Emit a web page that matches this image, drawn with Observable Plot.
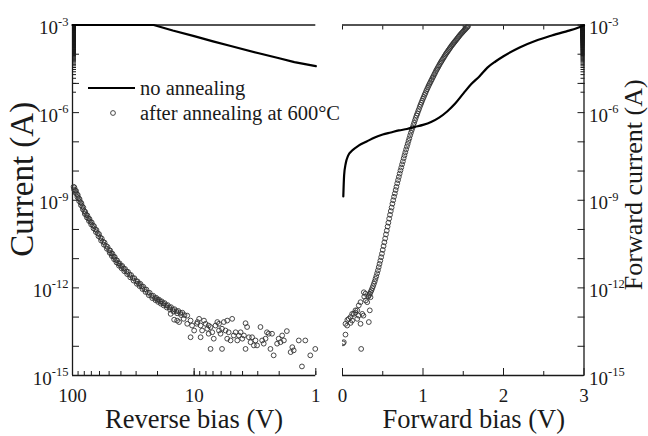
<!DOCTYPE html>
<html><head><meta charset="utf-8">
<script src="https://cdn.jsdelivr.net/npm/d3@7"></script>
<script src="https://cdn.jsdelivr.net/npm/@observablehq/plot@0.6"></script>
<style>
html,body{margin:0;padding:0;background:#fff;}
#wrap{position:relative;width:648px;height:436px;overflow:hidden;background:#fff;}
#wrap svg{position:absolute;top:0;}
</style></head><body><div id="wrap"></div>
<script>
// ---------------- data ----------------
// current values are stored as log10(current / A)
const yTickValues = [1e-3, 1e-6, 1e-9, 1e-12, 1e-15];
const yTickLabels = ["10^-3", "10^-6", "10^-9", "10^-12", "10^-15"];
const yDecades = [1e-3,1e-4,1e-5,1e-6,1e-7,1e-8,1e-9,1e-10,1e-11,1e-12,1e-13,1e-14,1e-15];
const revTickValues = [100, 10, 1];
const revTickLabels = ["100", "10", "1"];
const fwdTickValues = [0, 1, 2, 3];
const fwdTickLabels = ["0", "1", "2", "3"];
const fwdMinorTicks = [0.5, 1.5, 2.5];
const fwdTopTicks = [0, 0.5, 1, 1.5, 2, 2.5, 3];

// Reverse bias, no annealing (line)
const revNoAnnV    = [100, 60, 30, 21.5, 15, 10, 7, 5, 3, 2, 1.5, 1];
const revNoAnnLogI = [-3, -3, -3, -3, -3.19, -3.38, -3.56, -3.72, -3.96, -4.14, -4.27, -4.41];

// Reverse bias, after annealing at 600°C (circles): dense band, then scattered points
const revAnnV = [98,95,92,89,86,83,80,77,74,71,68,65,62,59,56,53,50,48,46,44,42,40,38,36,34,32,30,28.5,27,25.5,24,22.5,21,20,19,18,17,16,15,14,13,12,
  96.5,93.5,90.5,87.5,84.5,81.5,78.5,75.5,72.5,69.5,66.5,63.5,60.5,57.5,54.5,51.5,49,47,45,43,41,39,37,35,33,31,29.2,27.7,26.2,24.7,23.2,21.7,20.5,19.5,18.5,17.5,16.5,15.5,14.5,13.5,12.5,
  97.2,94.2,91.2,88.2,85.2,82.2,79.2,76.2,73.2,70.2,67.2,64.2,61.2,58.2,55.2,52.2,49.5,47.5,45.5,43.5,41.5,39.5,37.5,35.5,33.5,31.5,29.6,28.1,26.6,25.1,23.6,22.1,20.8,19.8,18.8,17.8,16.8,15.8,14.8,13.8,12.8,
  14.6,13.3,12.2,11.4,10.7,10.4,10.0,9.4,9.1,8.85,8.6,8.3,8.05,7.8,7.6,7.33,7.1,6.9,6.67,6.45,6.25,6.07,5.9,5.7,5.52,5.35,5.2,5.02,4.87,4.72,4.56,4.42,4.29,4.15,4.02,3.90,3.78,3.67,3.55,3.44,3.34,3.23,3.13,3.04,2.85,2.76,2.68,2.59,2.52,2.44,2.36,2.29,2.22,2.08,2.02,1.95,1.89,1.83,1.73,1.61,1.56,1.52,1.38,1.30,1.22,1.11,1.01,7.33,5.9,3.78,
  15.6,13.8,11.4,9.5,8.85,7.6,6.25,5.35,10.7];
const revAnnLogI = [-8.54,-8.66,-8.79,-8.93,-9.07,-9.21,-9.37,-9.50,-9.62,-9.74,-9.86,-10.00,-10.13,-10.28,-10.42,-10.56,-10.71,-10.82,-10.93,-11.04,-11.16,-11.25,-11.34,-11.44,-11.55,-11.66,-11.77,-11.86,-11.95,-12.05,-12.16,-12.27,-12.35,-12.41,-12.47,-12.53,-12.60,-12.67,-12.74,-12.80,-12.86,-12.93,
  -8.56,-8.68,-8.82,-8.96,-9.10,-9.25,-9.40,-9.52,-9.64,-9.76,-9.89,-10.02,-10.16,-10.31,-10.45,-10.60,-10.72,-10.83,-10.94,-11.06,-11.16,-11.25,-11.35,-11.45,-11.56,-11.67,-11.78,-11.86,-11.96,-12.06,-12.17,-12.27,-12.34,-12.40,-12.46,-12.52,-12.59,-12.66,-12.73,-12.79,-12.85,
  -8.63,-8.75,-8.89,-9.03,-9.17,-9.31,-9.47,-9.59,-9.71,-9.83,-9.96,-10.09,-10.23,-10.38,-10.52,-10.66,-10.80,-10.91,-11.02,-11.13,-11.24,-11.33,-11.43,-11.53,-11.64,-11.75,-11.86,-11.94,-12.04,-12.14,-12.25,-12.35,-12.42,-12.48,-12.54,-12.60,-12.67,-12.74,-12.81,-12.87,-12.93,
  -13.09,-13.17,-13.06,-12.95,-13.12,-13.29,-13.46,-13.17,-13.06,-13.29,-13.46,-13.12,-13.23,-13.40,-13.57,-13.34,-13.52,-13.74,-13.29,-13.17,-13.46,-13.57,-13.40,-13.17,-13.46,-13.74,-13.52,-13.80,-13.06,-13.63,-13.52,-13.80,-13.63,-13.52,-13.74,-13.63,-13.21,-13.34,-13.69,-13.86,-13.69,-13.97,-13.80,-13.97,-13.34,-13.80,-13.91,-13.74,-13.52,-13.57,-14.09,-13.57,-14.31,-13.91,-13.74,-13.86,-13.63,-13.80,-13.48,-14.20,-14.03,-14.14,-13.80,-14.69,-13.80,-14.31,-14.09,-14.09,-14.09,-14.09,
  -12.89,-13.12,-13.23,-13.23,-13.69,-13.29,-13.23,-13.12,-13.69];

// Forward bias, no annealing (line)
const fwdNoAnnV    = [0.01,0.02,0.04,0.07,0.12,0.2,0.3,0.4,0.5,0.6,0.7,0.8,0.9,1.0,1.1,1.2,1.3,1.4,1.5,1.6,1.7,1.8,1.9,2.0,2.2,2.4,2.6,2.8,2.9,3.0];
const fwdNoAnnLogI = [-8.87,-8.15,-7.74,-7.47,-7.30,-7.13,-6.99,-6.85,-6.75,-6.68,-6.61,-6.56,-6.49,-6.42,-6.32,-6.17,-5.96,-5.69,-5.35,-5.02,-4.76,-4.46,-4.25,-4.07,-3.77,-3.54,-3.36,-3.20,-3.12,-3.01];

// Forward bias, after annealing at 600°C (circles): rising band, then low-bias scatter
const fwdAnnV = [0.32,0.34,0.36,0.38,0.40,0.42,0.44,0.46,0.48,0.50,0.52,0.54,0.56,0.58,0.60,0.62,0.64,0.66,0.68,0.70,0.72,0.74,0.76,0.78,0.80,0.82,0.84,0.86,0.88,0.90,0.92,0.94,0.96,0.98,1.00,1.02,1.04,1.06,1.08,1.10,1.12,1.14,1.16,1.18,1.20,1.22,1.24,1.26,1.28,1.30,1.32,1.34,1.36,1.38,1.40,1.42,1.44,1.46,1.48,1.50,1.52,1.54,1.56,
  0.33,0.35,0.37,0.39,0.41,0.43,0.45,0.47,0.49,0.51,0.53,0.55,0.57,0.59,0.61,0.63,0.65,0.67,0.69,0.71,0.73,0.75,0.77,0.79,0.81,0.83,0.85,0.87,0.89,0.91,0.93,0.95,0.97,0.99,1.01,1.03,1.05,1.07,1.09,1.11,1.13,1.15,1.17,1.19,1.21,1.23,1.25,1.27,1.29,1.31,1.33,1.35,1.37,1.39,1.41,1.43,1.45,1.47,1.49,1.51,1.53,1.55,
  0.006,0.016,0.037,0.037,0.058,0.078,0.099,0.12,0.12,0.14,0.161,0.183,0.202,0.224,0.224,0.232,0.245,0.265,0.286,0.307,0.327,0.339,0.348,0.183,0.20,0.26,0.29,0.10,0.06,0.16,0.27];
const fwdAnnLogI = [-12.30,-12.20,-12.08,-11.94,-11.78,-11.60,-11.40,-11.18,-10.95,-10.70,-10.44,-10.17,-9.90,-9.63,-9.37,-9.12,-8.88,-8.65,-8.42,-8.20,-7.98,-7.77,-7.56,-7.36,-7.16,-6.97,-6.78,-6.60,-6.43,-6.26,-6.10,-5.95,-5.80,-5.66,-5.52,-5.39,-5.26,-5.14,-5.02,-4.91,-4.80,-4.69,-4.58,-4.48,-4.38,-4.28,-4.19,-4.10,-4.01,-3.93,-3.85,-3.77,-3.69,-3.62,-3.55,-3.48,-3.41,-3.34,-3.28,-3.22,-3.16,-3.10,-3.04,
  -12.25,-12.14,-12.01,-11.86,-11.69,-11.50,-11.29,-11.07,-10.83,-10.57,-10.31,-10.04,-9.77,-9.50,-9.25,-9.00,-8.77,-8.54,-8.31,-8.09,-7.88,-7.67,-7.46,-7.26,-7.07,-6.88,-6.69,-6.52,-6.35,-6.18,-6.03,-5.88,-5.73,-5.59,-5.46,-5.33,-5.20,-5.08,-4.97,-4.86,-4.75,-4.64,-4.53,-4.43,-4.33,-4.24,-4.15,-4.06,-3.97,-3.89,-3.81,-3.73,-3.66,-3.59,-3.52,-3.45,-3.38,-3.31,-3.25,-3.19,-3.13,-3.07,
  -13.90,-13.86,-13.60,-13.23,-13.29,-13.06,-13.00,-12.89,-13.12,-12.89,-12.77,-13.06,-12.60,-12.49,-13.23,-14.09,-12.89,-12.15,-12.20,-12.49,-13.17,-12.77,-12.32,-12.77,-12.95,-12.95,-12.43,-13.20,-13.10,-12.85,-12.30];

// ---------------- tables ----------------
const toRows = (V, L) => V.map((v, i) => ({V: v, I: 10 ** L[i]}));
const revNoAnn = toRows(revNoAnnV, revNoAnnLogI);
const revAnn = toRows(revAnnV, revAnnLogI);
const fwdNoAnn = toRows(fwdNoAnnV, fwdNoAnnLogI);
const fwdAnn = toRows(fwdAnnV, fwdAnnLogI);

// ---------------- styling ----------------
const ink = "#1a1a1a";
const FONT = "'Liberation Serif', 'Times New Roman', serif";
const H = 436;
const blank = () => "";
const yLab = d => yTickLabels[yTickValues.indexOf(d)];
const common = {
  height: H, marginTop: 24.5, marginBottom: 61,
  y: {type: "log", domain: [1e-15, 1e-3], label: null},
  style: {fontFamily: FONT, fontSize: "19px", color: ink, background: "transparent", overflow: "visible"}
};
const dotOpts = {x: "V", y: "I", r: 2.4, stroke: "#333", strokeWidth: 0.9, fill: "none"};

const left = Plot.plot({
  ...common, width: 330, marginLeft: 72, marginRight: 14.7,
  x: {type: "log", domain: [100, 1], label: null},
  marks: [
    Plot.ruleX([100], {stroke: ink, strokeWidth: 1.3}),
    Plot.ruleY([1e-3, 1e-15], {stroke: ink, strokeWidth: 1.3}),
    Plot.axisY({anchor: "left", ticks: yDecades, tickSize: 7, dx: 7, tickFormat: blank, stroke: ink}),
    Plot.axisY({anchor: "left", ticks: 300, tickSize: 4, dx: 4, tickFormat: blank, stroke: ink}),
    Plot.axisY({anchor: "left", ticks: yTickValues, tickSize: 0, tickPadding: 4, dy: 3, tickFormat: yLab, fill: ink}),
    Plot.axisX({anchor: "bottom", ticks: revTickValues, tickSize: 7, dy: -7, tickFormat: blank, stroke: ink}),
    Plot.axisX({anchor: "bottom", ticks: 30, tickSize: 4, dy: -4, tickFormat: blank, stroke: ink}),
    Plot.axisX({anchor: "bottom", ticks: revTickValues, tickSize: 0, tickPadding: 13, fill: ink,
      tickFormat: d => revTickLabels[revTickValues.indexOf(d)]}),
    Plot.dot(revAnn, dotOpts),
    Plot.line(revNoAnn, {x: "V", y: "I", stroke: "#000", strokeWidth: 2.2}),
    Plot.text(["Reverse bias (V)"], {text: d => d, frameAnchor: "bottom", lineAnchor: "middle", textAnchor: "middle", dy: 44.5, fontSize: 26.5, fill: ink}),
    Plot.text(["Current (A)"], {text: d => d, frameAnchor: "left", lineAnchor: "middle", textAnchor: "middle", rotate: -90, dx: -49.6, dy: -21, fontSize: 33, fill: ink})
  ]
});

const right = Plot.plot({
  ...common, width: 318, marginLeft: 12, marginRight: 64.5,
  x: {type: "linear", domain: [0, 3], label: null},
  marks: [
    Plot.ruleX([3], {stroke: ink, strokeWidth: 1.3}),
    Plot.ruleY([1e-3, 1e-15], {stroke: ink, strokeWidth: 1.3}),
    Plot.axisY({anchor: "right", ticks: yDecades, tickSize: 7, dx: -7, tickFormat: blank, stroke: ink}),
    Plot.axisY({anchor: "right", ticks: 300, tickSize: 4, dx: -4, tickFormat: blank, stroke: ink}),
    Plot.axisY({anchor: "right", ticks: yTickValues, tickSize: 0, tickPadding: 5, dy: 3, tickFormat: yLab, fill: ink}),
    Plot.axisX({anchor: "bottom", ticks: fwdTickValues, tickSize: 7, dy: -7, tickFormat: blank, stroke: ink}),
    Plot.axisX({anchor: "bottom", ticks: fwdMinorTicks, tickSize: 4, dy: -4, tickFormat: blank, stroke: ink}),
    Plot.axisX({anchor: "top", ticks: fwdTopTicks, tickSize: 4, dy: 4, tickFormat: blank, stroke: ink}),
    Plot.axisX({anchor: "bottom", ticks: fwdTickValues, tickSize: 0, tickPadding: 13, fill: ink,
      tickFormat: d => fwdTickLabels[fwdTickValues.indexOf(d)]}),
    Plot.dot(fwdAnn, {...dotOpts, clip: true}),
    Plot.line(fwdNoAnn, {x: "V", y: "I", stroke: "#000", strokeWidth: 2.2, curve: "monotone-x"}),
    Plot.text(["Forward bias (V)"], {text: d => d, frameAnchor: "bottom", lineAnchor: "middle", textAnchor: "middle", dx: 10.5, dy: 44.5, fontSize: 26.5, fill: ink}),
    Plot.text(["Forward current (A)"], {text: d => d, frameAnchor: "right", lineAnchor: "middle", textAnchor: "middle", rotate: -90, dx: 49.7, dy: -15.5, fontSize: 26, fill: ink})
  ]
});

// superscript exponents in the log-axis tick labels
const NS = "http://www.w3.org/2000/svg";
function supify(svg) {
  svg.querySelectorAll("text").forEach(t => {
    const s = t.textContent;
    if (!s.includes("^")) return;
    const [b, e] = s.split("^");
    t.textContent = "";
    const a = document.createElementNS(NS, "tspan"); a.textContent = b;
    const c = document.createElementNS(NS, "tspan"); c.textContent = e;
    c.setAttribute("dy", "-8.5"); c.setAttribute("font-size", "12.5");
    t.append(a, c);
  });
}
supify(left); supify(right);

right.style.left = "330px";
left.style.left = "0px";
const wrap = document.getElementById("wrap");
wrap.append(right, left);

// in-plot legend
const lg = d3.select(left).append("g").attr("font-family", FONT).attr("font-size", 20.5)
  .attr("fill", ink).attr("text-anchor", "start");
lg.append("line").attr("x1", 88).attr("x2", 135).attr("y1", 88).attr("y2", 88).attr("stroke", "#000").attr("stroke-width", 2.2);
lg.append("text").attr("x", 140).attr("y", 94.5).text("no annealing");
lg.append("circle").attr("cx", 113).attr("cy", 113).attr("r", 2.4).attr("fill", "none").attr("stroke", "#333").attr("stroke-width", 0.9);
lg.append("text").attr("x", 140).attr("y", 119.5).text("after annealing at 600°C");
</script></body></html>
